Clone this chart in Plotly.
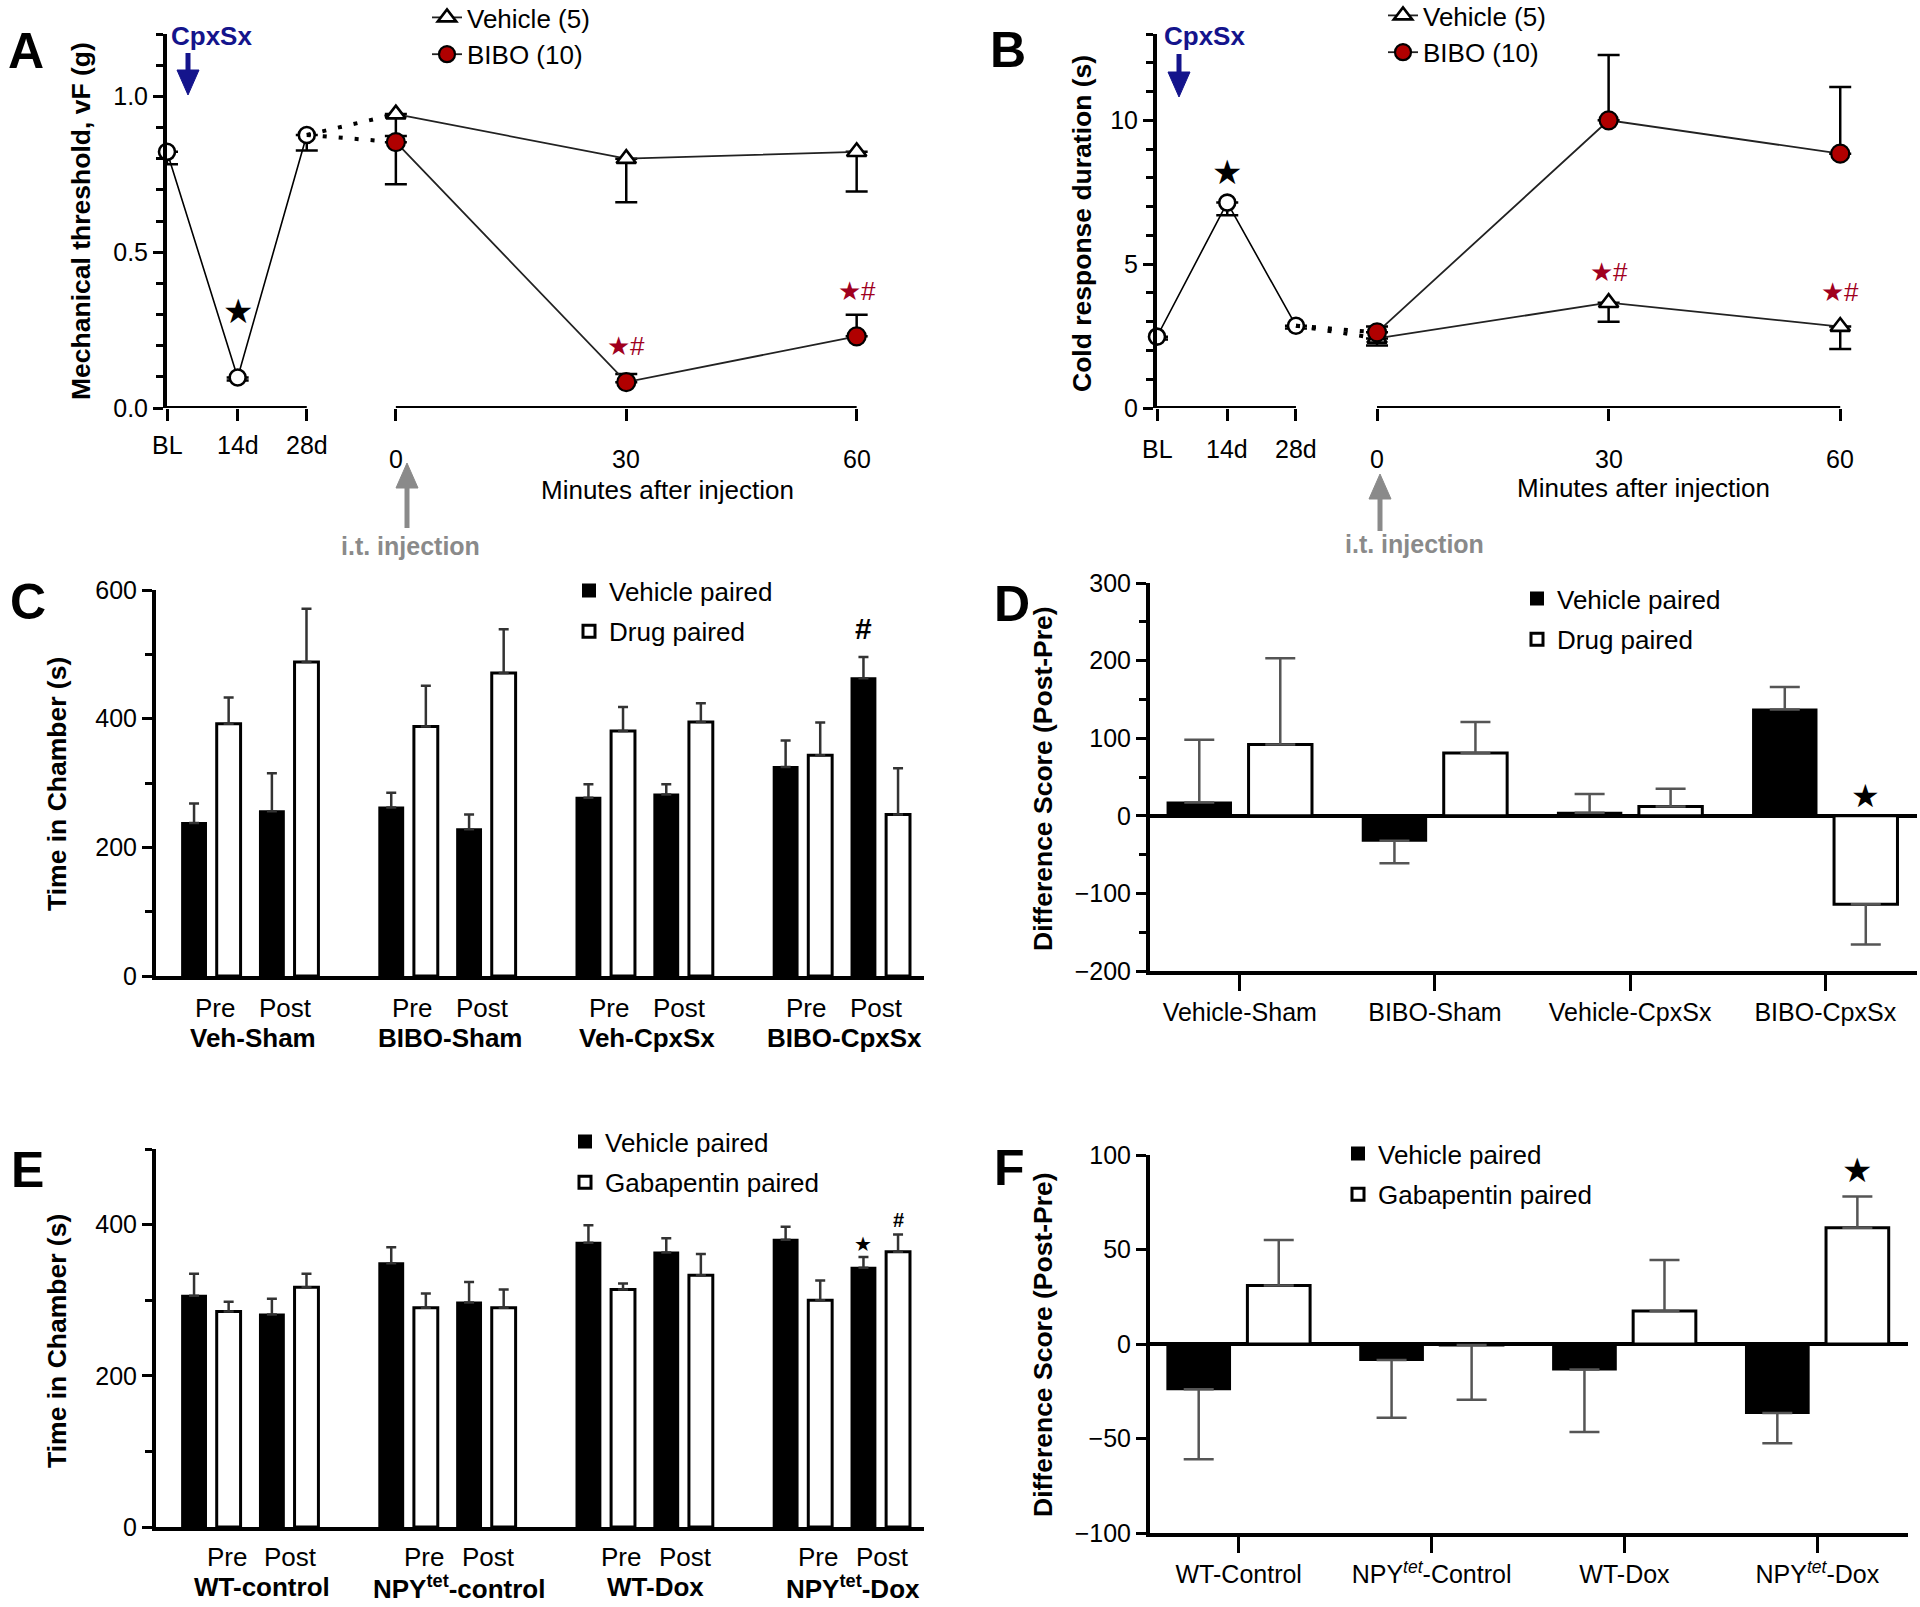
import plotly.graph_objects as go

W, H = 1920, 1607
FONT = "Liberation Sans, Arial, Helvetica, sans-serif"
RED = "#b00000"
STAR_RED = "#a0001e"
NAVY = "#14148c"
GRAY = "#8a8a8a"

# ======================= DATA =======================
# Panel A - mechanical threshold (g)
A_day_labels = ["BL", "14d", "28d"]
A_day_mean = [0.822, 0.098, 0.876]
A_day_err = [0.04, 0.01, 0.05]
A_minutes = [0, 30, 60]
A_veh_mean = [0.943, 0.800, 0.822]
A_veh_err = [0.07, 0.14, 0.127]            # SEM shown below the point
A_bibo_mean = [0.853, 0.083, 0.230]
A_bibo_err_up = [0.0, 0.026, 0.069]
A_bibo_err_down = [0.135, 0.0, 0.0]

# Panel B - cold response duration (s)
B_day_labels = ["BL", "14d", "28d"]
B_day_mean = [2.48, 7.14, 2.86]
B_day_err = [0.1, 0.44, 0.1]
B_minutes = [0, 30, 60]
B_veh_mean = [2.42, 3.66, 2.83]
B_veh_err = [0.25, 0.66, 0.78]
B_bibo_mean = [2.63, 10.0, 8.84]
B_bibo_err = [0.2, 2.27, 2.32]

# Panel C - time in chamber (s)
C_groups = ["Veh-Sham", "BIBO-Sham", "Veh-CpxSx", "BIBO-CpxSx"]
C_phase = ["Pre", "Post"]
C_veh_pre = [238, 262, 277, 325]
C_veh_pre_err = [30, 23, 21, 41]
C_drug_pre = [392, 388, 381, 343]
C_drug_pre_err = [41, 63, 37, 51]
C_veh_post = [256, 228, 282, 463]
C_veh_post_err = [59, 23, 16, 33]
C_drug_post = [488, 471, 395, 251]
C_drug_post_err = [83, 68, 29, 72]

# Panel D - difference score (Post-Pre)
D_groups = ["Vehicle-Sham", "BIBO-Sham", "Vehicle-CpxSx", "BIBO-CpxSx"]
D_veh = [17, -32, 4, 137]
D_veh_err = [81, 29, 24, 29]
D_drug = [92, 81, 12, -114]
D_drug_err = [111, 40, 23, 52]

# Panel E - time in chamber (s)
E_groups = ["WT-control", "NPY<sup>tet</sup>-control", "WT-Dox", "NPY<sup>tet</sup>-Dox"]
E_phase = ["Pre", "Post"]
E_veh_pre = [306, 349, 376, 380]
E_veh_pre_err = [29, 21, 23, 17]
E_gaba_pre = [285, 290, 314, 300]
E_gaba_pre_err = [13, 19, 8, 26]
E_veh_post = [281, 297, 363, 343]
E_veh_post_err = [21, 27, 19, 14]
E_gaba_post = [317, 290, 333, 364]
E_gaba_post_err = [18, 24, 28, 23]

# Panel F - difference score (Post-Pre)
F_groups = ["WT-Control", "NPY<sup><i>tet</i></sup>-Control", "WT-Dox", "NPY<sup><i>tet</i></sup>-Dox"]
F_veh = [-24, -8.5, -13.5, -36.5]
F_veh_err = [37, 30.5, 33, 16]
F_gaba = [31, -0.5, 17.5, 61.5]
F_gaba_err = [24, 29, 27, 16.5]

# ======================= LAYOUT CONSTANTS =======================
DAY_X_A = [-29.8, -20.6, -11.6]      # where the day points sit on the minutes axis
DAY_X_B = [-28.5, -19.4, -10.5]
GSTEP = 5.7                           # spacing between bar groups (C, E)
SLOT = [0, 1, 2.25, 3.25]             # pre-veh, pre-drug, post-veh, post-drug
BARW = 0.69
DW, DOFF = 0.325, 0.045               # grouped bar width/offset (D, F)
TXT = 26
TICK = 25


def px(x):
    return x / W


def py(y):
    return 1 - y / H


def tf(size=TXT, color="black", bold=False):
    return dict(family=FONT, size=size, color=color, weight="bold" if bold else "normal")


fig = go.Figure()
annotations = []
shapes = []


def ann(text, x, y, xref="paper", yref="paper", size=TXT, color="black", bold=False, angle=0,
        xanchor="center", yanchor="middle"):
    annotations.append(dict(text=text, x=x, y=y, xref=xref, yref=yref, showarrow=False,
                            font=tf(size, color, bold), textangle=angle,
                            xanchor=xanchor, yanchor=yanchor))


def arrow(x, y_tail, y_tip, color, shaft=5, head_len=25, head_half=11):
    d = 1 if y_tip > y_tail else -1
    yb = y_tip - d * head_len
    shapes.append(dict(type="line", xref="paper", yref="paper", x0=px(x), x1=px(x),
                       y0=py(y_tail), y1=py(yb + d * 2), line=dict(color=color, width=shaft)))
    shapes.append(dict(type="path", xref="paper", yref="paper",
                       path=f"M {px(x - head_half)},{py(yb)} L {px(x + head_half)},{py(yb)} "
                            f"L {px(x)},{py(y_tip)} Z",
                       fillcolor=color, line=dict(color=color, width=1)))


# ======================= PANELS A / B (line plots) =======================
def line_panel(xa, ya, day_x, day_mean, day_err, minutes, veh_mean, veh_err,
               bibo_mean, bibo_up, bibo_down, legend_name):
    fig.add_trace(go.Scatter(
        x=day_x, y=day_mean, mode="lines+markers", xaxis=xa, yaxis=ya, showlegend=False,
        line=dict(color="black", width=1.6),
        marker=dict(symbol="circle", size=16, color="white", line=dict(color="black", width=2.6)),
        error_y=dict(type="data", symmetric=False, array=[0] * len(day_err), arrayminus=day_err,
                     color="black", thickness=2.5, width=11),
        cliponaxis=False))
    for tgt in (veh_mean[0], bibo_mean[0]):
        fig.add_trace(go.Scatter(
            x=[day_x[-1], minutes[0]], y=[day_mean[-1], tgt], mode="lines", xaxis=xa, yaxis=ya,
            showlegend=False, line=dict(color="black", width=4, dash="4px,12px"),
            hoverinfo="skip", cliponaxis=False))
    fig.add_trace(go.Scatter(
        x=minutes, y=veh_mean, mode="lines+markers", name="Vehicle (5)", xaxis=xa, yaxis=ya,
        legend=legend_name, legendgroup=legend_name + "v", line=dict(color="#222", width=1.8),
        marker=dict(symbol="triangle-up", size=17, color="white", line=dict(color="black", width=2.6)),
        error_y=dict(type="data", symmetric=False, array=[0] * 3, arrayminus=veh_err,
                     color="black", thickness=2.5, width=11),
        cliponaxis=False))
    fig.add_trace(go.Scatter(
        x=minutes, y=bibo_mean, mode="lines+markers", name="BIBO (10)", xaxis=xa, yaxis=ya,
        legend=legend_name, legendgroup=legend_name + "b", line=dict(color="#222", width=1.8),
        marker=dict(symbol="circle", size=18, color=RED, line=dict(color="black", width=2.2)),
        error_y=dict(type="data", symmetric=False, array=bibo_up, arrayminus=bibo_down,
                     color="black", thickness=2.5, width=11),
        cliponaxis=False))
    for x0, x1 in ((day_x[0], day_x[-1]), (minutes[0], minutes[-1])):
        shapes.append(dict(type="line", xref=xa, yref=ya, x0=x0, x1=x1, y0=0, y1=0,
                           line=dict(color="black", width=4)))


line_panel("x", "y", DAY_X_A, A_day_mean, A_day_err, A_minutes, A_veh_mean, A_veh_err,
           A_bibo_mean, A_bibo_err_up, A_bibo_err_down, "legend")
line_panel("x2", "y2", DAY_X_B, B_day_mean, B_day_err, B_minutes, B_veh_mean, B_veh_err,
           B_bibo_mean, B_bibo_err, [0, 0, 0], "legend2")

# labels A
for lab, xv in zip(A_day_labels, DAY_X_A):
    ann(lab, xv, py(445), xref="x", size=TICK)
for m in A_minutes:
    ann(str(m), m, py(459), xref="x", size=TICK)
ann("Minutes after injection", px(667), py(490))
ann("i.t. injection", px(410), py(546), size=25, color=GRAY, bold=True)
arrow(407, 528, 463, GRAY)
ann("CpxSx", px(211), py(36), size=26, color=NAVY, bold=True)
arrow(188, 53, 95, NAVY)
ann("Mechanical threshold, vF (g)", px(81), py(221), size=26.5, bold=True, angle=-90)
ann("A", px(26), py(51), size=50, bold=True)
ann("★", DAY_X_A[1], 0.31, xref="x", yref="y", size=34)
ann("★#", 30, 0.20, xref="x", yref="y", size=26, color=STAR_RED)
ann("★#", 60, 0.374, xref="x", yref="y", size=26, color=STAR_RED)

# labels B
for lab, xv in zip(B_day_labels, DAY_X_B):
    ann(lab, xv, py(449), xref="x2", size=TICK)
for m in B_minutes:
    ann(str(m), m, py(459), xref="x2", size=TICK)
ann("Minutes after injection", px(1643), py(488))
ann("i.t. injection", px(1414), py(544), size=25, color=GRAY, bold=True)
arrow(1380, 531, 474, GRAY)
ann("CpxSx", px(1204), py(36), size=26, color=NAVY, bold=True)
arrow(1179, 54, 97, NAVY)
ann("Cold response duration (s)", px(1082), py(224), size=26.5, bold=True, angle=-90)
ann("B", px(1008), py(50), size=50, bold=True)
ann("★", DAY_X_B[1], 8.22, xref="x2", yref="y2", size=34)
ann("★#", 30, 4.72, xref="x2", yref="y2", size=26, color=STAR_RED)
ann("★#", 60, 4.04, xref="x2", yref="y2", size=26, color=STAR_RED)


# ======================= PANELS C / E (pre/post bars) =======================
def prepost_panel(xa, ya, veh_pre, veh_pre_err, drg_pre, drg_pre_err, veh_post, veh_post_err,
                  drg_post, drg_post_err, names, legend_name):
    xv, yv, ev, xd, yd, ed = [], [], [], [], [], []
    for g in range(len(veh_pre)):
        base = g * GSTEP
        xv += [base + SLOT[0], base + SLOT[2]]
        yv += [veh_pre[g], veh_post[g]]
        ev += [veh_pre_err[g], veh_post_err[g]]
        xd += [base + SLOT[1], base + SLOT[3]]
        yd += [drg_pre[g], drg_post[g]]
        ed += [drg_pre_err[g], drg_post_err[g]]
    fig.add_trace(go.Bar(
        x=xv, y=yv, width=BARW, name=names[0], xaxis=xa, yaxis=ya, legend=legend_name,
        legendgroup=legend_name + "v",
        marker=dict(color="black", line=dict(color="black", width=2)),
        error_y=dict(type="data", symmetric=False, array=ev, arrayminus=[0] * len(ev),
                     color="#333", thickness=2.5, width=5)))
    fig.add_trace(go.Bar(
        x=xd, y=yd, width=BARW, name=names[1], xaxis=xa, yaxis=ya, legend=legend_name,
        legendgroup=legend_name + "d",
        marker=dict(color="white", line=dict(color="black", width=3)),
        error_y=dict(type="data", symmetric=False, array=ed, arrayminus=[0] * len(ed),
                     color="#333", thickness=2.5, width=5)))


prepost_panel("x3", "y3", C_veh_pre, C_veh_pre_err, C_drug_pre, C_drug_pre_err,
              C_veh_post, C_veh_post_err, C_drug_post, C_drug_post_err,
              ["Vehicle paired", "Drug paired"], "legend3")
prepost_panel("x5", "y5", E_veh_pre, E_veh_pre_err, E_gaba_pre, E_gaba_pre_err,
              E_veh_post, E_veh_post_err, E_gaba_post, E_gaba_post_err,
              ["Vehicle paired", "Gabapentin paired"], "legend5")

for g, name in enumerate(C_groups):
    base = g * GSTEP
    ann(C_phase[0], base + 0.6, py(1008), xref="x3")
    ann(C_phase[1], base + 2.63, py(1008), xref="x3")
    ann(name, base + 1.7, py(1038), xref="x3", bold=True)
for g, name in enumerate(E_groups):
    base = g * GSTEP
    ann(E_phase[0], base + 0.95, py(1557), xref="x5")
    ann(E_phase[1], base + 2.8, py(1557), xref="x5")
    ann(name, base + 1.95, py(1587), xref="x5", bold=True)

ann("#", 3 * GSTEP + SLOT[2], 540, xref="x3", yref="y3", size=30, bold=True)
ann("★", 3 * GSTEP + SLOT[2], 374, xref="x5", yref="y5", size=20)
ann("#", 3 * GSTEP + SLOT[3], 406, xref="x5", yref="y5", size=20, bold=True)
ann("Time in Chamber (s)", px(57), py(784), size=26.5, bold=True, angle=-90)
ann("Time in Chamber (s)", px(57), py(1341), size=26.5, bold=True, angle=-90)
ann("C", px(28), py(602), size=50, bold=True)
ann("E", px(27), py(1170), size=50, bold=True)


# ======================= PANELS D / F (difference bars) =======================
def diff_panel(xa, ya, veh, veh_err, drg, drg_err, names, legend_name):
    idx = list(range(len(veh)))
    for k, (vals, errs, off, col, lw, name) in enumerate((
            (veh, veh_err, -DOFF - DW, "black", 2, names[0]),
            (drg, drg_err, DOFF, "white", 3, names[1]))):
        up = [e if v >= 0 else 0 for v, e in zip(vals, errs)]
        dn = [e if v < 0 else 0 for v, e in zip(vals, errs)]
        fig.add_trace(go.Bar(
            x=idx, y=vals, width=DW, offset=off, name=name, xaxis=xa, yaxis=ya,
            legend=legend_name, legendgroup=legend_name + str(k),
            marker=dict(color=col, line=dict(color="black", width=lw)),
            error_y=dict(type="data", symmetric=False, array=up, arrayminus=dn,
                         color="#555", thickness=2.5, width=15)))


diff_panel("x4", "y4", D_veh, D_veh_err, D_drug, D_drug_err,
           ["Vehicle paired", "Drug paired"], "legend4")
diff_panel("x6", "y6", F_veh, F_veh_err, F_gaba, F_gaba_err,
           ["Vehicle paired", "Gabapentin paired"], "legend6")

ann("★", 3 + DOFF + DW / 2, 26, xref="x4", yref="y4", size=32)
ann("★", 3 + DOFF + DW / 2, 92, xref="x6", yref="y6", size=34)
ann("Difference Score (Post-Pre)", px(1043), py(779), size=26.5, bold=True, angle=-90)
ann("Difference Score (Post-Pre)", px(1043), py(1345), size=26.5, bold=True, angle=-90)
ann("D", px(1012), py(604), size=50, bold=True)
ann("F", px(1010), py(1168), size=50, bold=True)

# ======================= AXES =======================
base_axis = dict(showgrid=False, zeroline=False, showline=True, linecolor="black", linewidth=4,
                 ticks="outside", tickcolor="black", tickwidth=3, ticklen=10,
                 tickfont=tf(TICK), fixedrange=True, automargin=False)


def yax(domain, rng, anchor, dtick, minor=None, fmt=None, zero=False):
    d = dict(base_axis, domain=domain, range=rng, anchor=anchor, tickmode="linear",
             tick0=0, dtick=dtick)
    if minor:
        d["minor"] = dict(dtick=minor, tick0=0, ticks="outside", ticklen=7, tickwidth=3,
                          tickcolor="black")
    if fmt:
        d["tickformat"] = fmt
    if zero:
        d.update(zeroline=True, zerolinecolor="black", zerolinewidth=4)
    return d


layout = dict(
    width=W, height=H, autosize=False, margin=dict(l=0, r=0, t=0, b=0, autoexpand=False),
    paper_bgcolor="white", plot_bgcolor="white", barmode="overlay",
    font=tf(TXT), showlegend=True,
    xaxis=dict(base_axis, domain=[px(167), px(167 + (63 - DAY_X_A[0]) * 7.68)],
               range=[DAY_X_A[0], 63], anchor="y", showline=False,
               tickmode="array", tickvals=DAY_X_A + A_minutes, ticklen=12,
               showticklabels=False),
    yaxis=yax([py(408), py(34)], [0, 1.2], "x", 0.5, minor=0.1, fmt=".1f"),
    xaxis2=dict(base_axis, domain=[px(1157), px(1157 + (63 - DAY_X_B[0]) * 7.72)],
                range=[DAY_X_B[0], 63], anchor="y2", showline=False,
                tickmode="array", tickvals=DAY_X_B + B_minutes, ticklen=12,
                showticklabels=False),
    yaxis2=yax([py(408), py(34)], [0, 13], "x2", 5, minor=1),
    xaxis3=dict(base_axis, domain=[px(156), px(924)], range=[-1.1, 21.1], anchor="y3",
                ticks="", showticklabels=False),
    yaxis3=yax([py(976), py(590)], [0, 600], "x3", 200, minor=100),
    xaxis4=dict(base_axis, domain=[px(1150), px(1917)], range=[-0.46, 3.47], anchor="y4",
                tickmode="array", tickvals=list(range(4)), ticktext=D_groups,
                ticklen=16),
    yaxis4=yax([py(971), py(583)], [-200, 300], "x4", 100, minor=50, zero=True),
    xaxis5=dict(base_axis, domain=[px(156), px(924)], range=[-1.1, 21.1], anchor="y5",
                ticks="", showticklabels=False),
    yaxis5=yax([py(1527), py(1149)], [0, 500], "x5", 200, minor=100),
    xaxis6=dict(base_axis, domain=[px(1150), px(1908)], range=[-0.46, 3.47], anchor="y6",
                tickmode="array", tickvals=list(range(4)), ticktext=F_groups,
                ticklen=16),
    yaxis6=yax([py(1533), py(1155)], [-100, 100], "x6", 50, zero=True),
    annotations=annotations,
    shapes=shapes,
)

leg = dict(bgcolor="rgba(0,0,0,0)", font=tf(TXT), xanchor="left", yanchor="top",
           itemclick=False, itemdoubleclick=False)
layout["legend"] = dict(leg, x=px(427), y=py(-6), tracegroupgap=0)
layout["legend2"] = dict(leg, x=px(1383), y=py(-8), tracegroupgap=0)
layout["legend3"] = dict(leg, x=px(569), y=py(567), tracegroupgap=4)
layout["legend4"] = dict(leg, x=px(1517), y=py(575), tracegroupgap=4)
layout["legend5"] = dict(leg, x=px(565), y=py(1118), tracegroupgap=4)
layout["legend6"] = dict(leg, x=px(1338), y=py(1130), tracegroupgap=4)

fig.update_layout(**layout)
fig.write_html("out.html", config={"displayModeBar": False},
               post_script="document.body.style.margin='0';document.body.style.overflow='hidden';")
